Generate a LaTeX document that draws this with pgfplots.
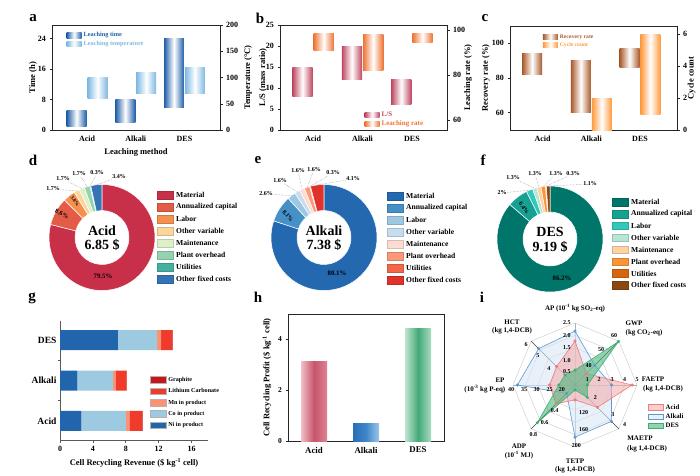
\documentclass[border=0pt]{standalone}
\usepackage{pgfplots}
\pgfplotsset{compat=1.18}
\usepackage{fontspec}
\setmainfont{Liberation Serif}

\definecolor{timeblue}{HTML}{1F5FA8}
\definecolor{tempblue}{HTML}{7DB8E3}
\definecolor{lsred}{HTML}{BE4660}
\definecolor{lrorange}{HTML}{EE7433}
\definecolor{recbrown}{HTML}{A9592A}
\definecolor{cycorange}{HTML}{FF9A3D}
\definecolor{dA}{HTML}{C8304A}\definecolor{dB}{HTML}{E45C48}\definecolor{dC}{HTML}{F5904F}\definecolor{dD}{HTML}{FDD49A}
\definecolor{dE}{HTML}{DDF0C6}\definecolor{dF}{HTML}{95D3B0}\definecolor{dG}{HTML}{45AFA0}\definecolor{dH}{HTML}{3474B4}
\definecolor{eA}{HTML}{2468B0}\definecolor{eB}{HTML}{4690C8}\definecolor{eC}{HTML}{9CC8E4}\definecolor{eD}{HTML}{C8DCF0}
\definecolor{eE}{HTML}{FDDDD0}\definecolor{eF}{HTML}{FB9878}\definecolor{eG}{HTML}{F4674A}\definecolor{eH}{HTML}{E0322A}
\definecolor{fA}{HTML}{00766A}\definecolor{fB}{HTML}{17A192}\definecolor{fC}{HTML}{33C8BA}\definecolor{fD}{HTML}{B5E6D6}
\definecolor{fE}{HTML}{FDD3A6}\definecolor{fF}{HTML}{FD9538}\definecolor{fG}{HTML}{D6650C}\definecolor{fH}{HTML}{8A4710}
\definecolor{gNi}{HTML}{2166AC}\definecolor{gCo}{HTML}{9ECAE1}\definecolor{gMn}{HTML}{FC9272}\definecolor{gLi}{HTML}{EF3B2C}\definecolor{gGr}{HTML}{C8161D}
\definecolor{hAL}{HTML}{F0C0C8}\definecolor{hAM}{HTML}{C8546A}\definecolor{hAR}{HTML}{DC8494}
\definecolor{hBL}{HTML}{2A6DB5}\definecolor{hBM}{HTML}{3F86C8}\definecolor{hBR}{HTML}{9CC6EA}
\definecolor{hCL}{HTML}{C0E6D0}\definecolor{hCM}{HTML}{45A878}\definecolor{hCR}{HTML}{A8DCC0}
\definecolor{iAcid}{HTML}{F07C7C}\definecolor{iAcidF}{HTML}{F4A9A9}
\definecolor{iAlk}{HTML}{5B9BD5}\definecolor{iAlkF}{HTML}{D8E7F6}
\definecolor{iDES}{HTML}{3DB070}\definecolor{iDESF}{HTML}{4CB57D}

\newcommand\fs[1]{\fontsize{#1}{#1}\selectfont\bfseries}

\tikzset{
  tbar/.style={draw=none, left color=timeblue, right color=timeblue, middle color=white},
  tpbar/.style={draw=none, left color=tempblue, right color=tempblue, middle color=white},
  lsbar/.style={draw=none, left color=lsred, right color=lsred, middle color=white},
  lrbar/.style={draw=none, left color=lrorange, right color=lrorange, middle color=white},
  rcbar/.style={draw=none, left color=recbrown, right color=recbrown, middle color=white},
  cybar/.style={draw=none, left color=cycorange, right color=cycorange, middle color=white},
  iacid/.style={draw=iAcid, fill=iAcidF, fill opacity=0.55, line width=0.6pt},
  ialk/.style={draw=iAlk, fill=iAlkF, fill opacity=0.6, line width=0.6pt},
  ides/.style={draw=iDES, fill=iDESF, fill opacity=0.6, line width=0.6pt},
}

\pgfplotsset{
  base/.style={scale only axis, anchor=south west, tick align=outside,
    axis line style={black!85, line width=0.6pt},
    every tick/.style={black!85, line width=0.5pt},
    major tick length=2.5pt,
    tick label style={font=\fs{8}},
    label style={font=\fs{8.5}},
    /pgf/number format/assume math mode=true,
    xtick style={draw=none}},
  rightax/.style={axis y line*=right, axis x line=none, yticklabel pos=right},
  ylab/.style={ylabel style={at={(axis description cs:#1,0.5)}, anchor=center}},
  swatch/.style={legend image code/.code={\path[##1, draw=none] (0pt,-2.7pt) rectangle (15pt,2.7pt);}},
  swatchg/.style={legend image code/.code={\path[##1, draw=black!30, line width=0.3pt] (0pt,-3pt) rectangle (16pt,3.5pt);}},
}

\newcommand\donut[5]{% #1 cx, #2 cy, #3 tag, #4 sum, #5 list
  \begin{scope}[shift={(#1pt,-#2pt)}]
    \gdef\curang{90}%
    \foreach \val/\col [count=\i] in {#5} {%
      \pgfmathsetmacro\nxt{\curang-\val/#4*360}%
      \fill[fill=\col, draw=white, line width=0.5pt] (\curang:53pt) arc[start angle=\curang, end angle=\nxt, radius=53pt] -- (\nxt:27pt) arc[start angle=\nxt, end angle=\curang, radius=27pt] -- cycle;
      \pgfmathsetmacro\md{(\curang+\nxt)/2}%
      \expandafter\xdef\csname mid#3\i\endcsname{\md}%
      \xdef\curang{\nxt}%
    }
  \end{scope}}

\newcommand\olab[6]{% #1 cx, #2 cy, #3 tag+idx, #4 x, #5 y, #6 text
  \node[font=\fs{6}, inner sep=0.6pt] (tmp) at (#4pt,-#5pt) {#6};
  \edef\tmpang{\csname mid#3\endcsname}%
  \draw[black!50, densely dotted, line width=0.45pt] (tmp) -- ([shift={(#1pt,-#2pt)}]\tmpang:53pt);
}

\newcommand\dlegend[4]{% #1 x, #2 y0, #3 spacing, #4 tag
  \foreach \L/\lab [count=\i] in {A/Material, B/Annualized capital, C/Labor, D/Other variable, E/Maintenance, F/Plant overhead, G/Utilities, H/Other fixed costs} {%
    \edef\thecol{#4\L}%
    \pgfmathsetmacro\yy{-(#2+(\i-1)*#3)}%
    \path[fill=\thecol, draw=\thecol!85!black, line width=0.3pt] (#1pt,\yy pt-3.8pt) rectangle (#1pt+16pt,\yy pt+3.8pt);
    \node[anchor=west, font=\fs{7.6}, inner sep=0pt] at (#1pt+19pt,\yy pt) {\lab};
  }}

\begin{document}
\begin{tikzpicture}
\path[use as bounding box] (0,0) rectangle (700pt,-475pt);

% ---------------- panel letters
\node[font=\fs{15}] at (33pt,-18pt) {a};
\node[font=\fs{15}] at (260pt,-18pt) {b};
\node[font=\fs{15}] at (485pt,-18pt) {c};
\node[font=\fs{15}] at (33pt,-160pt) {d};
\node[font=\fs{15}] at (258pt,-160pt) {e};
\node[font=\fs{15}] at (483pt,-160pt) {f};
\node[font=\fs{15}] at (32pt,-298pt) {g};
\node[font=\fs{15}] at (258pt,-297pt) {h};
\node[font=\fs{15}] at (482pt,-297pt) {i};

% ---------------- panel a  (floating bars: lower and upper value of each range)
\begin{axis}[base, at={(52pt,-130pt)}, width=168pt, height=105pt,
  xmin=-0.72, xmax=2.73, ymin=0, ymax=27.5,
  ytick={0,8,16,24}, ytick pos=left, xtick={0,1,2}, xticklabels={Acid,Alkali,DES},
  ylabel={Time (h)}, ylab=-0.113, xlabel={Leaching method}, swatch,
  legend style={at={(0.08,0.96)}, anchor=north west, draw=none, fill=none, font=\fs{6.3}, row sep=-1.5pt, inner sep=1pt},
  legend cell align=left]
\addplot[tbar, forget plot] coordinates {(-0.42,1) (-0.01,1) (-0.01,5) (-0.42,5)} -- cycle;
\addplot[tbar, forget plot] coordinates {(0.58,2) (0.99,2) (0.99,8) (0.58,8)} -- cycle;
\addplot[tbar, forget plot] coordinates {(1.58,6) (1.99,6) (1.99,24) (1.58,24)} -- cycle;
\addlegendimage{tbar}
\addlegendentry{\textcolor{timeblue}{Leaching time}}
\addlegendimage{tpbar}
\addlegendentry{\textcolor{tempblue}{Leaching temperature}}
\end{axis}
\begin{axis}[base, rightax, at={(52pt,-130pt)}, width=168pt, height=105pt,
  xmin=-0.72, xmax=2.73, ymin=0, ymax=200, ytick={0,50,100,150,200},
  ylabel={Temperature (°C)}, ylab=1.167]
\addplot[tpbar] coordinates {(0.01,60) (0.42,60) (0.42,100) (0.01,100)} -- cycle;
\addplot[tpbar] coordinates {(1.01,70) (1.42,70) (1.42,110) (1.01,110)} -- cycle;
\addplot[tpbar] coordinates {(2.01,70) (2.42,70) (2.42,120) (2.01,120)} -- cycle;
\end{axis}

% ---------------- panel b
\begin{axis}[base, at={(280pt,-130pt)}, width=167pt, height=105pt,
  xmin=-0.67, xmax=2.71, ymin=0, ymax=25,
  ytick={0,5,10,15,20,25}, ytick pos=left, xtick={0,1,2}, xticklabels={Acid,Alkali,DES},
  ylabel={L/S (mass ratio)}, ylab=-0.102, swatch,
  legend style={at={(0.5,0.2)}, anchor=north west, draw=none, fill=none, font=\fs{7}, row sep=-1.5pt, inner sep=1pt},
  legend cell align=left]
\addplot[lsbar, forget plot] coordinates {(-0.42,8) (-0.01,8) (-0.01,15) (-0.42,15)} -- cycle;
\addplot[lsbar, forget plot] coordinates {(0.58,12) (0.99,12) (0.99,20) (0.58,20)} -- cycle;
\addplot[lsbar, forget plot] coordinates {(1.58,6) (1.99,6) (1.99,12) (1.58,12)} -- cycle;
\addlegendimage{lsbar}
\addlegendentry{\textcolor{lsred}{L/S}}
\addlegendimage{lrbar}
\addlegendentry{\textcolor{lrorange}{Leaching rate}}
\end{axis}
\begin{axis}[base, rightax, at={(280pt,-130pt)}, width=167pt, height=105pt,
  xmin=-0.67, xmax=2.71, ymin=55.6, ymax=102.2, ytick={60,80,100},
  ylabel={Leaching rate (\%)}, ylab=1.126]
\addplot[lrbar] coordinates {(0.01,90.7) (0.42,90.7) (0.42,98.5) (0.01,98.5)} -- cycle;
\addplot[lrbar] coordinates {(1.01,81.8) (1.42,81.8) (1.42,97.8) (1.01,97.8)} -- cycle;
\addplot[lrbar] coordinates {(2.01,94.4) (2.42,94.4) (2.42,98.5) (2.01,98.5)} -- cycle;
\end{axis}

% ---------------- panel c
\begin{axis}[base, at={(510pt,-130pt)}, width=167pt, height=104pt,
  xmin=-0.67, xmax=2.76, ymin=50, ymax=110,
  ytick={60,80,100}, ytick pos=left, xtick={0,1,2}, xticklabels={Acid,Alkali,DES},
  ylabel={Recovery rate (\%)}, ylab=-0.144, swatch,
  legend style={at={(0.19,0.95)}, anchor=north west, draw=none, fill=none, font=\fs{5.6}, row sep=-1pt, inner sep=1pt},
  legend cell align=left]
\addplot[rcbar, forget plot] coordinates {(-0.42,82) (-0.01,82) (-0.01,94) (-0.42,94)} -- cycle;
\addplot[rcbar, forget plot] coordinates {(0.58,60) (0.99,60) (0.99,90) (0.58,90)} -- cycle;
\addplot[rcbar, forget plot] coordinates {(1.58,86) (1.99,86) (1.99,97) (1.58,97)} -- cycle;
\addlegendimage{rcbar}
\addlegendentry{\textcolor{recbrown}{Recovery rate}}
\addlegendimage{cybar}
\addlegendentry{\textcolor{cycorange}{Cycle count}}
\end{axis}
\begin{axis}[base, rightax, at={(510pt,-130pt)}, width=167pt, height=104pt,
  xmin=-0.67, xmax=2.76, ymin=0, ymax=6.5, ytick={0,2,4,6},
  ylabel={Cycle count}, ylab=1.088]
\addplot[cybar] coordinates {(1.01,0) (1.42,0) (1.42,2) (1.01,2)} -- cycle;
\addplot[cybar] coordinates {(2.01,1) (2.42,1) (2.42,6) (2.01,6)} -- cycle;
\end{axis}

% ---------------- donuts
\donut{102}{237.5}{d}{100.7}{79.5/dA, 8.6/dB, 3.8/dC, 1.7/dD, 1.7/dE, 1.7/dF, 0.3/dG, 3.4/dH}
\node[font=\fontsize{14}{14.5}\selectfont\bfseries, align=center] at (102pt,-238pt) {Acid\\6.85 \$};
\node[font=\fs{6.8}] at (103pt,-276pt) {79.5\%};
\node[font=\fs{6.3}, rotate=-25] at (62pt,-214pt) {8.6\%};
\node[font=\fs{5}, rotate=-55] at (75pt,-201pt) {3.8\%};
\olab{102}{237.5}{d4}{53}{189}{1.7\%}
\olab{102}{237.5}{d5}{63}{179}{1.7\%}
\olab{102}{237.5}{d6}{79}{174}{1.7\%}
\olab{102}{237.5}{d7}{97}{173}{0.3\%}
\olab{102}{237.5}{d8}{119}{177}{3.4\%}
\dlegend{157}{195}{12}{d}

\donut{324}{237.5}{e}{100}{80.1/eA, 8.1/eB, 2.6/eC, 1.6/eD, 1.6/eE, 1.6/eF, 0.3/eG, 4.1/eH}
\node[font=\fontsize{14}{14.5}\selectfont\bfseries, align=center] at (324pt,-238pt) {Alkali\\7.38 \$};
\node[font=\fs{6.8}] at (337pt,-273pt) {80.1\%};
\node[font=\fs{6}, rotate=-50] at (288pt,-216pt) {8.1\%};
\olab{324}{237.5}{e3}{266}{194}{2.6\%}
\olab{324}{237.5}{e4}{280}{181}{1.6\%}
\olab{324}{237.5}{e5}{298}{171}{1.6\%}
\olab{324}{237.5}{e6}{314}{170}{1.6\%}
\olab{324}{237.5}{e7}{333}{173}{0.3\%}
\olab{324}{237.5}{e8}{353}{179}{4.1\%}
\dlegend{387}{196}{12}{e}

\donut{550}{239}{f}{99.9}{86.2/fA, 6.4/fB, 2/fC, 1.3/fD, 1.3/fE, 1.3/fF, 0.3/fG, 1.1/fH}
\node[font=\fontsize{14}{14.5}\selectfont\bfseries, align=center] at (550pt,-240pt) {DES\\9.19 \$};
\node[font=\fs{6.8}] at (562pt,-278pt) {86.2\%};
\node[font=\fs{6}, rotate=-55] at (524pt,-208pt) {6.4\%};
\olab{550}{239}{f3}{502}{193}{2\%}
\olab{550}{239}{f4}{513}{178}{1.3\%}
\olab{550}{239}{f5}{535}{174}{1.3\%}
\olab{550}{239}{f6}{556}{174}{1.3\%}
\olab{550}{239}{f7}{573}{174}{0.3\%}
\olab{550}{239}{f8}{590}{184}{1.1\%}
\dlegend{612}{202}{11.9}{f}

% ---------------- panel g
\begin{axis}[base, at={(60pt,-440pt)}, width=148pt, height=119pt,
  axis lines*=left, axis line style={black!65, line width=0.7pt},
  every tick/.style={black!65, line width=0.6pt},
  xmin=0, xmax=18, ymin=-0.47, ymax=2.47,
  xtick={0,4,8,12,16}, xtick style={draw=black!65},
  ytick={0.5,1.5}, yticklabels={},
  extra y ticks={0,1,2}, extra y tick labels={Acid,Alkali,DES},
  extra y tick style={major tick length=0pt, tick label style={font=\fs{9.5}}},
  xlabel={Cell Recycling Revenue (\$ kg\textsuperscript{-1} cell)},
  xbar stacked, bar width=20pt,
  every axis plot post/.append style={swatchg},
  legend style={at={(0.6,0.555)}, anchor=north west, draw=none, fill=none, font=\fs{6.1}, row sep=1.6pt, inner sep=1pt},
  reverse legend, legend cell align=left]
\addplot[draw=none, fill=gNi] coordinates {(2.6,0) (2.1,1) (7.05,2)};
\addlegendentry{Ni in product}
\addplot[draw=none, fill=gCo] coordinates {(5.4,0) (4.35,1) (4.75,2)};
\addlegendentry{Co in product}
\addplot[draw=none, fill=gMn] coordinates {(0.45,0) (0.35,1) (0.5,2)};
\addlegendentry{Mn in product}
\addplot[draw=none, fill=gLi] coordinates {(1.55,0) (1.3,1) (1.35,2)};
\addlegendentry{Lithium Carbonate}
\addplot[draw=none, fill=gGr] coordinates {(0.04,0) (0.04,1) (0.04,2)};
\addlegendentry{Graphite}
\end{axis}

% ---------------- panel h
\begin{axis}[base, at={(288pt,-441pt)}, width=156pt, height=127pt,
  xmin=-0.5, xmax=2.5, ymin=0, ymax=5,
  ytick={0,2,4}, ytick pos=left, xtick={0,1,2}, xticklabels={Acid,Alkali,DES},
  xticklabel style={font=\fs{8.8}}, yticklabel style={font=\fs{7.5}},
  ylabel={Cell Recycling Profit (\$ kg\textsuperscript{-1} cell)}]
\addplot[ybar, bar width=26pt, draw=none, left color=hAL, right color=hAR, middle color=hAM] coordinates {(0,3.12)};
\addplot[ybar, bar width=26pt, draw=none, left color=hBL, right color=hBR, middle color=hBM] coordinates {(1,0.67)};
\addplot[ybar, bar width=26pt, draw=none, left color=hCL, right color=hCR, middle color=hCM] coordinates {(2,4.42)};
\end{axis}

% ---------------- panel i
\begin{axis}[at={(513pt,-447pt)}, anchor=south west, scale only axis, width=124pt, height=124pt,
  xmin=-1, xmax=1, ymin=-1, ymax=1, hide axis, clip=false,
  legend image code/.code={\path[#1] (0pt,-2.8pt) rectangle (15pt,2.8pt);},
  legend style={at={(1.08,0.37)}, anchor=north west, draw=none, fill=none, font=\fs{6.8}, row sep=-1pt, inner sep=1pt},
  legend cell align=left]
\pgfplotsinvokeforeach{0.2,0.4,0.6,0.8,1}{
  \addplot[forget plot, data cs=polar, black!22, line width=0.4pt] coordinates {(0,#1) (45,#1) (90,#1) (135,#1) (180,#1) (225,#1) (270,#1) (315,#1) (360,#1)};
}
\addplot[forget plot, data cs=polar, black!30, line width=0.4pt] coordinates {(0,1) (0,0) (180,1)};
\addplot[forget plot, data cs=polar, black!30, line width=0.4pt] coordinates {(90,1) (0,0) (270,1)};
\addplot[forget plot, data cs=polar, black!75, line width=0.5pt] coordinates {(45,1) (0,0) (225,1)};
\addplot[forget plot, data cs=polar, black!75, line width=0.5pt] coordinates {(135,1) (0,0) (315,1)};
% Alkali
\addplot[forget plot, data cs=polar, ialk, mark=*, mark size=1.3pt, mark options={fill=iAlk, draw=iAlk, fill opacity=1}]
  coordinates {(90,0.87) (45,0.45) (0,0.59) (315,0.83) (270,0.84) (225,0.19) (180,0.93) (135,0.83)} -- cycle;
% Acid
\addplot[forget plot, data cs=polar, iacid, mark=*, mark size=1.3pt, mark options={fill=iAcid, draw=iAcid, fill opacity=1}]
  coordinates {(90,0.71) (45,0.26) (0,0.92) (315,0.51) (270,0.24) (225,0.43) (180,0.41) (135,0.42)} -- cycle;
% DES
\addplot[forget plot, data cs=polar, ides, mark=*, mark size=1.3pt, mark options={fill=iDES, draw=iDES, fill opacity=1}]
  coordinates {(90,0.24) (45,0.99) (0,0.2) (315,0.28) (270,0.08) (225,0.86) (180,0.26) (135,0.23)} -- cycle;
\addlegendimage{iacid}\addlegendentry{Acid}
\addlegendimage{ialk}\addlegendentry{Alkali}
\addlegendimage{ides}\addlegendentry{DES}
% axis tick labels
\begin{scope}[every node/.style={font=\fs{6}, inner sep=0.5pt}]
\node at (axis cs:-0.13,0.21) {0.5}; \node at (axis cs:-0.13,0.40) {1.0}; \node at (axis cs:-0.13,0.61) {1.5};
\node at (axis cs:-0.13,0.80) {2.0}; \node at (axis cs:-0.13,1.0) {2.5};
\node at (axis cs:0.22,0.32) {40}; \node at (axis cs:0.42,0.58) {50}; \node at (axis cs:0.63,0.79) {60};
\node at (axis cs:0.2,0.09) {1}; \node at (axis cs:0.39,0.09) {2}; \node at (axis cs:0.6,0.09) {3};
\node at (axis cs:0.8,0.09) {4}; \node at (axis cs:1.0,0.09) {5};
\node at (axis cs:0.33,-0.2) {2}; \node at (axis cs:0.61,-0.47) {3}; \node at (axis cs:0.8,-0.64) {4};
\node at (axis cs:0.14,-0.44) {120}; \node at (axis cs:0.14,-0.72) {160}; \node at (axis cs:0.02,-0.97) {200};
\node at (axis cs:-0.33,-0.41) {0.4}; \node at (axis cs:-0.49,-0.61) {0.6}; \node at (axis cs:-0.67,-0.8) {0.8};
\node at (axis cs:-0.21,-0.07) {20}; \node at (axis cs:-0.41,-0.07) {25}; \node at (axis cs:-0.62,-0.07) {30};
\node at (axis cs:-0.82,-0.07) {35}; \node at (axis cs:-1.03,-0.07) {40};
\node at (axis cs:-0.42,0.27) {4}; \node at (axis cs:-0.6,0.47) {5}; \node at (axis cs:-0.79,0.66) {6};
\end{scope}
\end{axis}
\begin{scope}[every node/.style={font=\fs{7}, inner sep=0.5pt}]
\node at (575pt,-308pt) {AP (10\textsuperscript{-1} kg SO\textsubscript{2}-eq)};
\node[anchor=west] at (625pt,-323pt) {GWP};
\node[anchor=west] at (625pt,-333pt) {(kg CO\textsubscript{2}-eq)};
\node at (653pt,-379pt) {FAETP};
\node at (663pt,-389pt) {(kg 1,4-DCB)};
\node at (640pt,-438pt) {MAETP};
\node at (647pt,-449pt) {(kg 1,4-DCB)};
\node at (575pt,-461pt) {TETP};
\node at (575pt,-470pt) {(kg 1,4-DCB)};
\node at (519pt,-446pt) {ADP};
\node at (519pt,-455pt) {(10\textsuperscript{-1} MJ)};
\node at (500pt,-380pt) {EP};
\node[anchor=east] at (506pt,-389pt) {(10\textsuperscript{-3} kg P-eq)};
\node at (512pt,-322pt) {HCT};
\node at (512pt,-331pt) {(kg 1,4-DCB)};
\end{scope}
\end{tikzpicture}
\end{document}
